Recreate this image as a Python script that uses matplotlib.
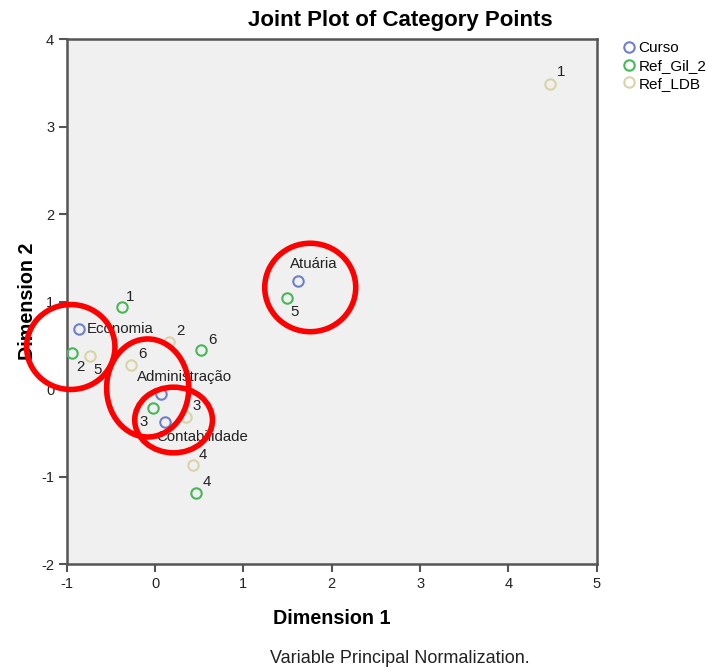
"""Joint plot of category points (SPSS style)."""

import matplotlib
matplotlib.use("Agg")
import matplotlib.pyplot as plt
from matplotlib.patches import Ellipse

plt.rcParams["font.family"] = ["Liberation Sans", "DejaVu Sans"]
plt.rcParams["axes.unicode_minus"] = False

# Category points
curso_labels = ["Economia", "Administração", "Contabilidade", "Atuária"]
curso_x = [-0.857, 0.068, 0.116, 1.616]
curso_y = [0.687, -0.051, -0.375, 1.239]

gil_labels = ["1", "2", "3", "4", "5", "6"]
gil_x = [-0.377, -0.936, -0.026, 0.464, 1.491, 0.521]
gil_y = [0.935, 0.410, -0.218, -1.189, 1.045, 0.444]

ldb_labels = ["1", "2", "3", "4", "5", "6"]
ldb_x = [4.471, 0.158, 0.354, 0.427, -0.736, -0.272]
ldb_y = [3.483, 0.536, -0.314, -0.866, 0.383, 0.280]

# Red highlight circles (center x, center y, width, height) in data units
highlight_x = [-0.954, -0.083, 0.21, 1.757]
highlight_y = [0.482, 0.014, -0.352, 1.162]
highlight_w = [1.0, 0.93, 0.88, 1.03]
highlight_h = [0.97, 1.12, 0.75, 1.01]

# Label offsets in pixels (dx, dy, ha)
curso_off = [(7, 0, "left"), (-24, 17, "left"), (-9, -15, "left"), (-8, 17, "left")]
gil_off = [(8, 10, "center"), (8, -14, "center"), (-9, -14, "center"),
           (11, 11, "center"), (8, -14, "center"), (11, 10, "center")]
ldb_off = [(11, 12, "center"), (11, 11, "center"), (10, 11, "center"),
           (10, 10, "center"), (8, -14, "center"), (11, 11, "center")]

series = [
    ("Curso", "#6e7fcc", curso_x, curso_y, curso_labels, curso_off),
    ("Ref_Gil_2", "#45b955", gil_x, gil_y, gil_labels, gil_off),
    ("Ref_LDB", "#d9d3a9", ldb_x, ldb_y, ldb_labels, ldb_off),
]

fig = plt.figure(figsize=(7.08, 6.69), dpi=100)
ax = fig.add_axes([0.0942, 0.1565, 0.7486, 0.7852])
ax.set_facecolor("#f0f0f0")

for name, color, xs, ys, labels, offs in series:
    ax.plot(xs, ys, linestyle="none", marker="o", markersize=7.5,
            markerfacecolor="none", markeredgecolor=color,
            markeredgewidth=1.5, label=name, zorder=3)
    for x, y, lab, (dx, dy, ha) in zip(xs, ys, labels, offs):
        ax.annotate(lab, (x, y), xytext=(dx, dy), textcoords="offset pixels",
                    ha=ha, va="center", fontsize=10.8, color="#222222", zorder=4)

for cx, cy, w, h in zip(highlight_x, highlight_y, highlight_w, highlight_h):
    ax.add_patch(Ellipse((cx, cy), w, h, fill=False, edgecolor="#ff0000",
                         linewidth=4, clip_on=False, zorder=5))

ax.set_xlim(-1, 5)
ax.set_ylim(-2, 4)
ax.set_xticks(range(-1, 6))
ax.set_yticks(range(-2, 5))
ax.tick_params(direction="out", length=6, width=1.5, color="#555555",
               labelsize=10.5, labelcolor="#222222", pad=3)
for sp in ax.spines.values():
    sp.set_color("#555555")
    sp.set_linewidth(1.8)

ax.set_xlabel("Dimension 1", fontsize=14.2, fontweight="bold", labelpad=13)
ax.set_ylabel("Dimension 2", fontsize=14.2, fontweight="bold", labelpad=3)

fig.text(0.566, 0.970, "Joint Plot of Category Points", ha="center",
         va="center", fontsize=16, fontweight="bold")
fig.text(0.565, 0.015, "Variable Principal Normalization.", ha="center",
         va="center", fontsize=13, color="#222222")

ax.legend(loc="upper left", bbox_to_anchor=(1.01, 1.028), frameon=False,
          fontsize=11, handletextpad=0.0, borderpad=0.6, labelspacing=0.25,
          handlelength=1.3)

plt.savefig("out.png", dpi=100)
plt.close()
